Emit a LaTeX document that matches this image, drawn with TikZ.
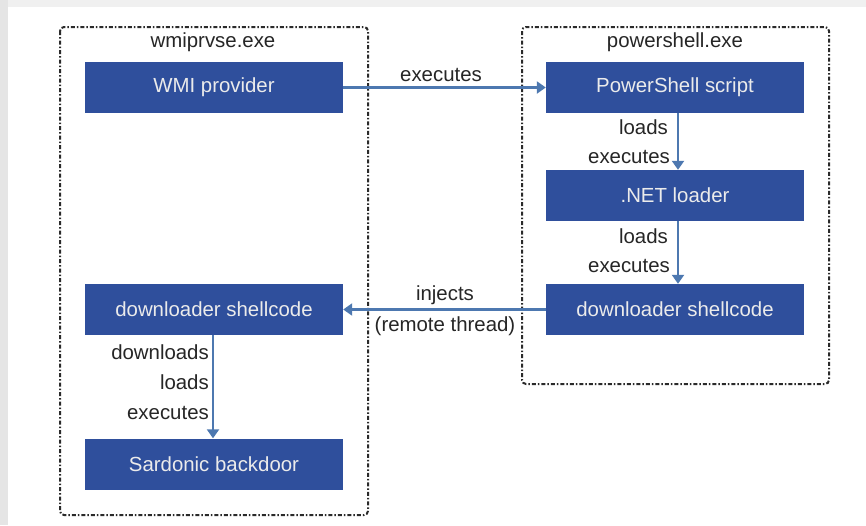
\documentclass[tikz,border=0pt]{standalone}
\usepackage{fontspec}
\setmainfont{Liberation Sans}
\usetikzlibrary{arrows.meta}
\definecolor{boxblue}{HTML}{2F4F9C}
\definecolor{arrowblue}{HTML}{4D78B0}
\definecolor{framegrey}{HTML}{2A2A2A}
\begin{document}
\begin{tikzpicture}[x=1pt,y=-1pt,
  procbox/.style={draw=framegrey,line width=2pt,rounded corners=4pt,
    dash pattern=on 4pt off 2pt on 1.5pt off 2pt},
  stepbox/.style={fill=boxblue,draw=none,minimum width=258pt,minimum height=51pt,
    inner sep=0pt,text=white!92!black,font=\fontsize{20.4}{24}\selectfont},
  lbl/.style={font=\fontsize{20.4}{24}\selectfont,text=black!85,inner sep=0pt},
  conn/.style={draw=arrowblue,line width=2.2pt,-{Triangle[length=9pt,width=12pt]}}]
\useasboundingbox (0,0) rectangle (866,525);
\fill[white] (0,0) rectangle (866,525);
\fill[black!10] (0,0) rectangle (8,525);
\fill[black!6] (8,0) rectangle (866,7);
% process frames
\draw[procbox] (60,27) rectangle (368,515);
\draw[procbox] (522,27) rectangle (829,384);
\node[lbl] (tleft) at (213,42) {wmiprvse.exe};
\node[lbl] (tright) at (675,42) {powershell.exe};
% boxes
\node[stepbox] (wmi) at (214,87.5) {WMI provider};
\node[stepbox] (ps) at (675,87.5) {PowerShell script};
\node[stepbox] (net) at (675,195.5) {.NET loader};
\node[stepbox] (dlr) at (675,309.5) {downloader shellcode};
\node[stepbox] (dll) at (214,309.5) {downloader shellcode};
\node[stepbox] (sard) at (214,464) {Sardonic backdoor};
% connectors
\draw[conn] (wmi.east) -- (ps.west);
\node[lbl] at (441,75) {executes};
\draw[conn] ([xshift=3pt]ps.south) -- ([xshift=3pt]net.north);
\node[lbl,anchor=east] at (668,127) {loads};
\node[lbl,anchor=east] at (670,157) {executes};
\draw[conn] ([xshift=3pt]net.south) -- ([xshift=3pt]dlr.north);
\node[lbl,anchor=east] at (668,236) {loads};
\node[lbl,anchor=east] at (670,266) {executes};
\draw[conn] (dlr.west) -- (dll.east);
\node[lbl] at (445,295) {injects};
\node[lbl] at (445,326) {(remote thread)};
\draw[conn] ([xshift=-1pt]dll.south) -- ([xshift=-1pt]sard.north);
\node[lbl,anchor=east] at (209,352) {downloads};
\node[lbl,anchor=east] at (209,382) {loads};
\node[lbl,anchor=east] at (209,413) {executes};
\end{tikzpicture}
\end{document}
